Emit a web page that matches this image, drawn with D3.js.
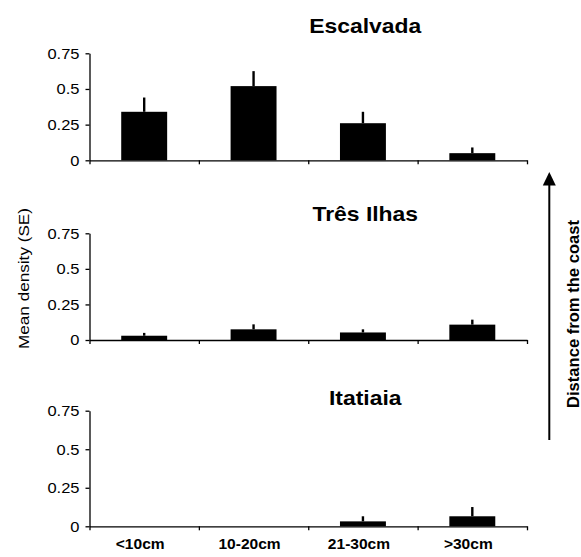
<!DOCTYPE html>
<html>
<head>
<meta charset="utf-8">
<script src="https://cdn.jsdelivr.net/npm/d3@7"></script>
<style>
  html, body { margin: 0; padding: 0; background: #fff; }
  svg { display: block; }
</style>
</head>
<body>
<svg id="chart" width="581" height="557"></svg>
<script>
// ---- data ----
const categories = ["<10cm", "10-20cm", "21-30cm", ">30cm"];
const sites = ["Escalvada", "Três Ilhas", "Itatiaia"];
const escalvadaMean = [0.34, 0.52, 0.26, 0.05];
const escalvadaSE   = [0.10, 0.105, 0.08, 0.04];
const tresIlhasMean = [0.03, 0.075, 0.053, 0.108];
const tresIlhasSE   = [0.02, 0.035, 0.022, 0.035];
const itatiaiaMean  = [0, 0, 0.032, 0.065];
const itatiaiaSE    = [0, 0, 0.033, 0.06];
const yTicks = [0, 0.25, 0.5, 0.75];
const yTickLabels = ["0", "0.25", "0.5", "0.75"];
const yAxisTitle = "Mean density (SE)";
const arrowTitle = "Distance from the coast";

const means = [escalvadaMean, tresIlhasMean, itatiaiaMean];
const ses = [escalvadaSE, tresIlhasSE, itatiaiaSE];

// ---- layout ----
const FONT = "'Liberation Sans', Arial, Helvetica, sans-serif";
const svg = d3.select("#chart");
const xLeft = 89.5, xRight = 527;
const panels = [
  { top: 53.3, bottom: 160.3, titleY: 33.3 },
  { top: 233.3, bottom: 340, titleY: 220.7 },
  { top: 410.7, bottom: 526.3, titleY: 405 }
];

function stretch(sel, k) {
  sel.each(function () {
    const L = this.getComputedTextLength();
    this.setAttribute("textLength", L * k);
    this.setAttribute("lengthAdjust", "spacingAndGlyphs");
  });
}

const x = d3.scaleBand().domain(categories).range([xLeft, xRight]).paddingInner(0.58).paddingOuter(0.29);
const xBound = d3.scaleLinear().domain([0, categories.length]).range([xLeft, xRight]);

panels.forEach((p, pi) => {
  const y = d3.scaleLinear().domain([0, 0.75]).range([p.bottom, p.top]);
  const g = svg.append("g");

  // bars
  const rows = categories.map((c, i) => ({ c, m: means[pi][i], se: ses[pi][i] }));
  g.selectAll("rect.bar").data(rows.filter(d => d.m > 0)).join("rect")
    .attr("class", "bar")
    .attr("x", d => x(d.c))
    .attr("width", x.bandwidth())
    .attr("y", d => y(d.m))
    .attr("height", d => y(0) - y(d.m))
    .attr("fill", "#000");

  // error bars (upper only)
  g.selectAll("line.err").data(rows.filter(d => d.se > 0)).join("line")
    .attr("class", "err")
    .attr("x1", d => x(d.c) + x.bandwidth() / 2)
    .attr("x2", d => x(d.c) + x.bandwidth() / 2)
    .attr("y1", d => y(d.m))
    .attr("y2", d => y(d.m + d.se))
    .attr("stroke", "#000")
    .attr("stroke-width", 2.4);

  // y axis
  const ya = g.append("g")
    .attr("transform", `translate(${xLeft},0)`)
    .call(d3.axisLeft(y).tickValues(yTicks).tickFormat((d, i) => yTickLabels[i])
      .tickSize(4).tickPadding(6).tickSizeOuter(0));
  ya.attr("font-family", FONT).attr("font-size", 15);
  ya.selectAll("path, line").attr("stroke", "#000").attr("stroke-width", 1.3);
  ya.selectAll("text").attr("fill", "#000");
  stretch(ya.selectAll("text"), 1.1);

  // x axis (ticks at category boundaries)
  const xa = g.append("g")
    .attr("transform", `translate(0,${p.bottom})`)
    .call(d3.axisBottom(xBound).tickValues(d3.range(categories.length + 1))
      .tickFormat("").tickSize(4).tickSizeOuter(0));
  xa.selectAll("path, line").attr("stroke", "#000").attr("stroke-width", 1.3);

  // title
  const t = svg.append("text")
    .attr("x", (xLeft + xRight) / 2 + 57)
    .attr("y", p.titleY)
    .attr("text-anchor", "middle")
    .attr("font-family", FONT)
    .attr("font-weight", "bold")
    .attr("font-size", 21)
    .attr("fill", "#000")
    .text(sites[pi]);
  stretch(t, 1.09);

  // category labels on bottom panel
  if (pi === panels.length - 1) {
    const ca = g.append("g")
      .attr("transform", `translate(0,${p.bottom})`)
      .call(d3.axisBottom(x).tickSize(0).tickPadding(0));
    ca.select("path").remove();
    ca.attr("font-family", FONT).attr("font-size", 14).attr("font-weight", "bold");
    ca.selectAll("text").attr("fill", "#000").attr("dy", null).attr("y", 23).attr("dx", -4);
    stretch(ca.selectAll("text"), 1.11);
  }
});

// y axis title
svg.append("text")
  .attr("transform", `translate(29,${(208 + 349) / 2}) rotate(-90)`)
  .attr("text-anchor", "middle")
  .attr("font-family", FONT)
  .attr("font-size", 15)
  .attr("fill", "#000")
  .attr("textLength", 141)
  .attr("lengthAdjust", "spacingAndGlyphs")
  .text(yAxisTitle);

// arrow
const arrowX = 549.3;
svg.append("line")
  .attr("x1", arrowX).attr("x2", arrowX)
  .attr("y1", 440).attr("y2", 184)
  .attr("stroke", "#000").attr("stroke-width", 2);
svg.append("path")
  .attr("d", `M${arrowX},172 L${arrowX - 6.5},185.5 L${arrowX + 6.5},185.5 Z`)
  .attr("fill", "#000");

svg.append("text")
  .attr("transform", `translate(579,${(220 + 408) / 2}) rotate(-90)`)
  .attr("text-anchor", "middle")
  .attr("font-family", FONT)
  .attr("font-weight", "bold")
  .attr("font-size", 16)
  .attr("fill", "#000")
  .attr("textLength", 188)
  .attr("lengthAdjust", "spacingAndGlyphs")
  .text(arrowTitle);
</script>
</body>
</html>
